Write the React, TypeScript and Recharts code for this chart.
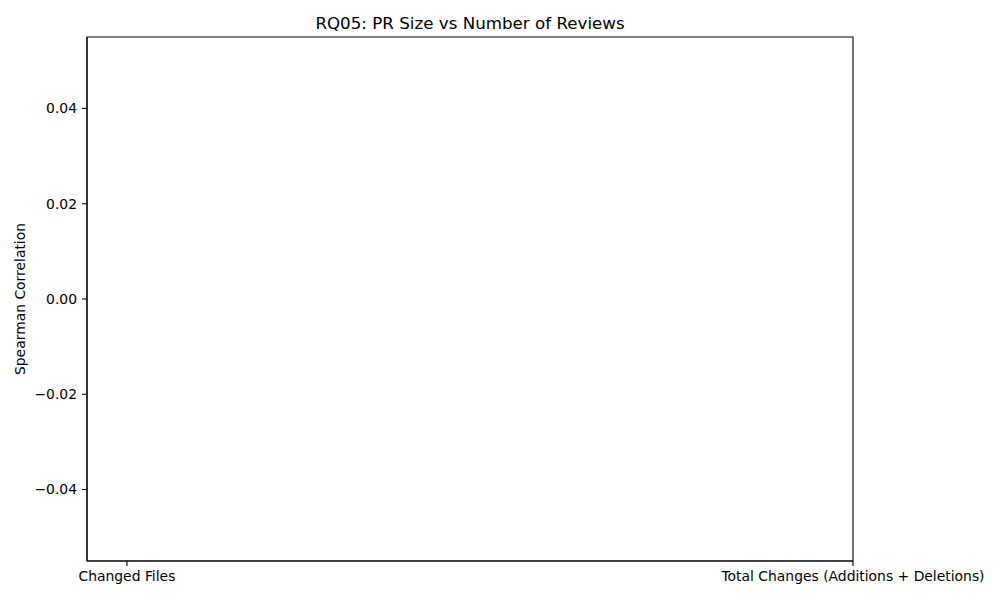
import { BarChart, Bar, XAxis, YAxis, Label, ReferenceArea } from "recharts";

const categories = ["Changed Files", "Total Changes (Additions + Deletions)"];
// correlations came out as NaN, nothing gets drawn
const correlations: (number | null)[] = [null, null];
const yTicks = [-0.04, -0.02, 0, 0.02, 0.04];

const data = categories.map((name, i) => ({ idx: i, name, value: correlations[i] }));

const X_DOMAIN: [number, number] = [-0.055, 1];
const Y_DOMAIN: [number, number] = [-0.055, 0.055];

const FONT = "'DejaVu Sans', sans-serif";
const tickStyle = { fill: "#000", fontSize: 13.9, fontFamily: FONT };

const fmtY = (v: number) => v.toFixed(2).replace("-", "\u2212");

const YLabel = (props: any) => {
  const vb = props.viewBox || { x: 0, y: 0, height: 0 };
  const cx = 20;
  const cy = vb.y + vb.height / 2;
  return (
    <text
      x={cx}
      y={cy}
      transform={`rotate(-90 ${cx} ${cy})`}
      textAnchor="middle"
      dominantBaseline="central"
      fontSize={13.9}
      fontFamily={FONT}
      fill="#000"
    >
      Spearman Correlation
    </text>
  );
};

const App = () => (
  <div style={{ position: "absolute", left: 0, top: 0, width: 1000, height: 600, background: "#fff" }}>
    <div
      style={{
        position: "absolute",
        left: 87,
        width: 766,
        top: 13,
        lineHeight: "20px",
        textAlign: "center",
        fontFamily: FONT,
        fontSize: 16.7,
        color: "#000",
      }}
    >
      RQ05: PR Size vs Number of Reviews
    </div>
    <BarChart
      width={1000}
      height={600}
      data={data}
      margin={{ top: 37, right: 147, bottom: 0, left: 0 }}
    >
      <XAxis
        dataKey="idx"
        type="number"
        domain={X_DOMAIN}
        ticks={[0, 1]}
        tickFormatter={(v: number) => categories[v] ?? ""}
        interval={0}
        height={39}
        tickSize={5}
        tickMargin={5}
        axisLine={{ stroke: "#000", strokeWidth: 1.1 }}
        tickLine={{ stroke: "#000", strokeWidth: 1.1 }}
        tick={tickStyle}
      />
      <YAxis
        type="number"
        domain={Y_DOMAIN}
        ticks={yTicks}
        tickFormatter={fmtY}
        width={87}
        tickSize={5}
        tickMargin={5}
        axisLine={{ stroke: "#000", strokeWidth: 1.1 }}
        tickLine={{ stroke: "#000", strokeWidth: 1.1 }}
        tick={tickStyle}
        allowDataOverflow
      >
        <Label content={YLabel} />
      </YAxis>
      <ReferenceArea
        x1={X_DOMAIN[0]}
        x2={X_DOMAIN[1]}
        y1={Y_DOMAIN[0]}
        y2={Y_DOMAIN[1]}
        fill="none"
        fillOpacity={0}
        stroke="#000"
        strokeWidth={1.1}
        ifOverflow="visible"
      />
      <Bar dataKey="value" fill="#1f77b4" barSize={40} isAnimationActive={false} />
    </BarChart>
  </div>
);

export default App;
